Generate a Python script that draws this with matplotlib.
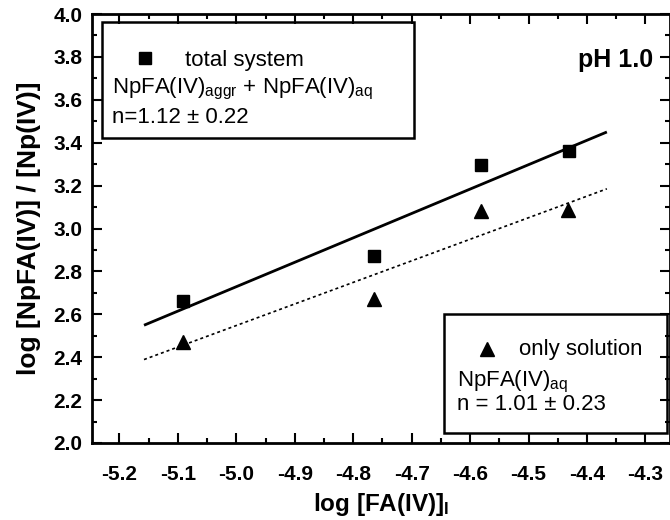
import matplotlib
matplotlib.use("Agg")
import matplotlib.pyplot as plt
from matplotlib.patches import Rectangle
from matplotlib.ticker import MultipleLocator, FixedLocator, FixedFormatter

plt.rcParams['font.family'] = ['Liberation Sans', 'DejaVu Sans']
plt.rcParams['mathtext.fontset'] = 'custom'
plt.rcParams['mathtext.rm'] = 'Liberation Sans'
plt.rcParams['mathtext.it'] = 'Liberation Sans'
plt.rcParams['mathtext.bf'] = 'Liberation Sans:bold'

# ---- data ----
x_total = [-5.092, -4.765, -4.582, -4.430]
y_total = [2.662, 2.870, 3.294, 3.363]
x_sol = [-5.092, -4.764, -4.582, -4.432]
y_sol = [2.471, 2.670, 3.081, 3.085]
fit_x = [-5.158, -4.366]
fit_total_y = [2.549, 3.450]
fit_sol_y = [2.389, 3.185]

xticks = [-5.2, -5.1, -5.0, -4.9, -4.8, -4.7, -4.6, -4.5, -4.4, -4.3]
xticklabels = ["-5.2", "-5.1", "-5.0", "-4.9", "-4.8", "-4.7", "-4.6", "-4.5", "-4.4", "-4.3"]
yticks = [2.0, 2.2, 2.4, 2.6, 2.8, 3.0, 3.2, 3.4, 3.6, 3.8, 4.0]
yticklabels = ["2.0", "2.2", "2.4", "2.6", "2.8", "3.0", "3.2", "3.4", "3.6", "3.8", "4.0"]

fig = plt.figure(figsize=(6.7, 5.2), dpi=100)
ax = fig.add_axes([92/670, 1-443/520, 578/670, 429/520])

ax.plot(fit_x, fit_total_y, color='black', lw=2.0, solid_capstyle='butt')
ax.plot(fit_x, fit_sol_y, color='black', lw=1.2, linestyle=(0, (1.8, 1.8)))
ax.plot(x_total, y_total, linestyle='none', marker='s', markersize=9, color='black')
ax.plot(x_sol, y_sol, linestyle='none', marker='^', markersize=10.5, color='black')

ax.set_xlim(-5.247, -4.258)
ax.set_ylim(2.0, 4.0)

ax.xaxis.set_major_locator(FixedLocator(xticks))
ax.xaxis.set_major_formatter(FixedFormatter(xticklabels))
ax.yaxis.set_major_locator(FixedLocator(yticks))
ax.yaxis.set_major_formatter(FixedFormatter(yticklabels))
ax.xaxis.set_minor_locator(MultipleLocator(0.05))
ax.yaxis.set_minor_locator(MultipleLocator(0.1))

ax.tick_params(which='both', direction='in', top=True, right=True, width=1.5)
ax.tick_params(which='major', length=7, labelsize=15)
ax.tick_params(axis='x', which='major', pad=16)
ax.tick_params(axis='y', which='major', pad=7)
ax.tick_params(which='minor', length=3.5)
for lab in ax.get_xticklabels() + ax.get_yticklabels():
    lab.set_fontweight('bold')
for s in ax.spines.values():
    s.set_linewidth(2.0)

ax.set_xlabel("log [FA(IV)]$_{\\mathregular{l}}$", fontsize=17.5, fontweight='bold', labelpad=5)
ax.set_ylabel("log [NpFA(IV)] / [Np(IV)]", fontsize=19, fontweight='bold', labelpad=9)

# legend boxes
ax.add_patch(Rectangle((0.017, 0.711), 0.540, 0.271, transform=ax.transAxes,
                       fill=False, lw=1.8, ec='black', zorder=5))
ax.add_patch(Rectangle((0.609, 0.024), 0.386, 0.277, transform=ax.transAxes,
                       fill=False, lw=1.8, ec='black', zorder=5))

tk = dict(transform=ax.transAxes, fontsize=16, color='black', va='baseline')
ax.plot([0.092], [0.898], marker='s', markersize=8.5, color='black', transform=ax.transAxes)
ax.text(0.161, 0.878, "total system", **tk)
ax.text(0.035, 0.815, "NpFA(IV)$_{\\mathregular{aggr}}$ + NpFA(IV)$_{\\mathregular{aq}}$", **tk)
ax.text(0.035, 0.745, "n=1.12 \u00b1 0.22", **tk)

ax.plot([0.683], [0.219], marker='^', markersize=10.5, color='black', transform=ax.transAxes)
ax.text(0.739, 0.205, "only solution", **tk)
ax.text(0.631, 0.131, "NpFA(IV)$_{\\mathregular{aq}}$", **tk)
ax.text(0.631, 0.077, "n = 1.01 \u00b1 0.23", **tk)

ax.text(0.971, 0.877, "pH 1.0", transform=ax.transAxes, fontsize=18, fontweight='bold',
        ha='right', va='baseline')

fig.savefig("out.png", dpi=100)
